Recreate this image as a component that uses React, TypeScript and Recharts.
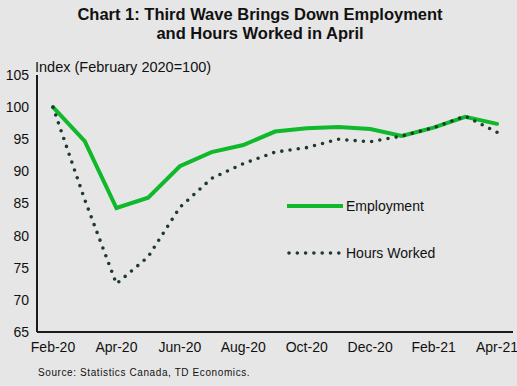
import { LineChart, Line, XAxis, YAxis } from "recharts";

// ─── Data ──────────────────────────────────────────────────────────

const months = [
  "Feb-20", "Mar-20", "Apr-20", "May-20", "Jun-20", "Jul-20", "Aug-20", "Sep-20",
  "Oct-20", "Nov-20", "Dec-20", "Jan-21", "Feb-21", "Mar-21", "Apr-21",
];
const employment = [100, 94.7, 84.3, 85.9, 90.8, 93.0, 94.1, 96.2, 96.7, 96.9, 96.6, 95.5, 96.8, 98.5, 97.4];
const hoursWorked = [100, 85.6, 72.5, 76.7, 84.4, 88.9, 91.2, 93.0, 93.7, 95.0, 94.6, 95.5, 96.8, 98.6, 96.1];
const yTicks = [65, 70, 75, 80, 85, 90, 95, 100, 105];

const data = months.map((m, i) => ({
  month: m,
  employment: employment[i],
  hours: hoursWorked[i],
}));

const GREEN = "#10b82c";
const DOTS = "#1d3a2b";
const FONT = '"Liberation Sans", Arial, sans-serif';

const series = [
  { key: "employment", name: "Employment", color: GREEN, dotted: false },
  { key: "hours", name: "Hours Worked", color: DOTS, dotted: true },
];

// ─── Legend ────────────────────────────────────────────────────────

function ChartLegend() {
  return (
    <div style={{ position: "absolute", left: 287, top: 196, fontSize: 14, color: "#111" }}>
      {series.map((s, i) => (
        <div key={s.key} style={{ display: "flex", alignItems: "center", height: 20, marginBottom: i === 0 ? 27 : 0 }}>
          <svg width={59} height={20} style={{ display: "block" }}>
            {s.dotted ? (
              <line x1={2} y1={10} x2={52} y2={10} stroke={s.color} strokeWidth={3.6}
                strokeDasharray="0 8.3" strokeLinecap="round" />
            ) : (
              <line x1={0} y1={10} x2={56} y2={10} stroke={s.color} strokeWidth={4} />
            )}
          </svg>
          <span>{s.name}</span>
        </div>
      ))}
    </div>
  );
}

// ─── Component ─────────────────────────────────────────────────────

export default function App() {
  return (
    <div
      style={{
        position: "relative",
        width: 517,
        height: 386,
        background: "#e6e6e6",
        fontFamily: FONT,
        overflow: "hidden",
      }}
    >
      <style>{"body{margin:0}"}</style>
      <div
        style={{
          position: "absolute",
          top: 5,
          left: 0,
          width: 520,
          textAlign: "center",
          fontWeight: "bold",
          fontSize: 16.5,
          lineHeight: "19px",
          color: "#111",
        }}
      >
        Chart 1: Third Wave Brings Down Employment
        <br />
        and Hours Worked in April
      </div>
      <div style={{ position: "absolute", top: 59, left: 35, fontSize: 14.5, color: "#111" }}>
        Index (February 2020=100)
      </div>
      <div style={{ position: "absolute", top: 367, left: 38, fontSize: 10, color: "#111", letterSpacing: 0.6 }}>
        Source: Statistics Canada, TD Economics.
      </div>

      <div style={{ position: "absolute", top: 0, left: 0 }}>
        <LineChart width={517} height={386} data={data} margin={{ top: 75, right: 4, bottom: 0, left: 0 }}>
          <XAxis
            dataKey="month"
            interval={1}
            padding={{ left: 16, right: 16 }}
            tickLine={false}
            axisLine={{ stroke: "#1a1a1a", strokeWidth: 2 }}
            tick={{ fill: "#111", fontSize: 14, fontFamily: FONT }}
            tickMargin={4}
            height={54}
          />
          <YAxis
            domain={[65, 105]}
            ticks={yTicks}
            interval={0}
            width={37}
            tickLine={false}
            axisLine={{ stroke: "#1a1a1a", strokeWidth: 2 }}
            tick={{ fill: "#111", fontSize: 14, fontFamily: FONT }}
          />
          {series.map((s) => (
            <Line
              key={s.key}
              type="linear"
              dataKey={s.key}
              name={s.name}
              stroke={s.color}
              strokeWidth={s.dotted ? 3.6 : 4}
              strokeDasharray={s.dotted ? "0 8.3" : undefined}
              strokeLinecap="round"
              dot={false}
              isAnimationActive={false}
            />
          ))}
        </LineChart>
      </div>
      <ChartLegend />
    </div>
  );
}
